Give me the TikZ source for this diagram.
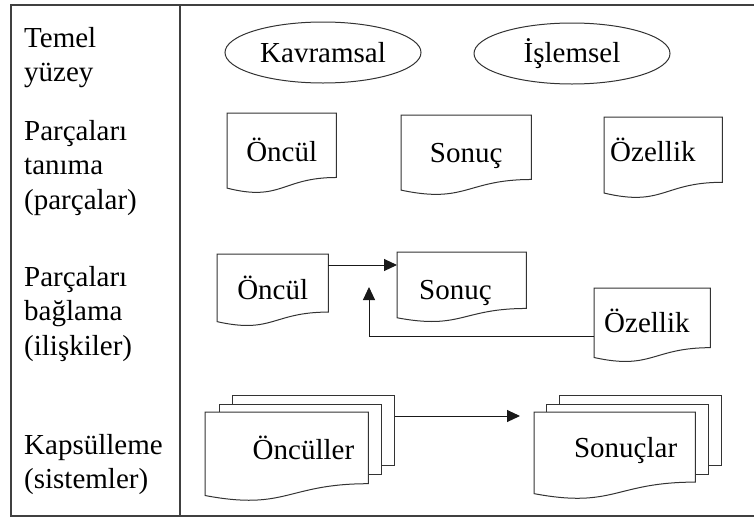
\documentclass[tikz,border=0pt]{standalone}
\usepackage{fontspec}
\setmainfont{Liberation Serif}
\usetikzlibrary{shapes.geometric,arrows.meta,calc,backgrounds}

\tikzset{
  frameline/.style={draw=black!75, line width=1.2pt},
  lvl/.style={anchor=north west, align=left, inner sep=0pt},
  surface/.style={ellipse, draw=black!80, line width=1pt, minimum width=196pt,
    minimum height=61pt, inner sep=0pt},
  doc/.style 2 args={anchor=north west, minimum width=#1, minimum height=#2, inner sep=0pt,
    text height=20pt, text depth=6pt},
  docline/.style={draw=black!80, line width=1pt},
  sheet/.style={draw=black!80, line width=1pt, fill=white, anchor=north west,
    minimum width=162pt, minimum height=70pt, inner sep=0pt},
  arr/.style={draw=black!90, line width=1pt, -{Triangle[length=13pt,width=12pt]}},
}

% outline of a flowchart document around a node
\newcommand\docshape[2][]{%
  \draw[docline,#1] (#2.north west) -- (#2.north east)
    -- ($(#2.north east)!0.802!(#2.south east)$)
    .. controls ($(#2.north)!0.802!(#2.south)$) and ($(#2.north)!1.107!(#2.south)$)
    .. ($(#2.north west)!0.934!(#2.south west)$) -- cycle;}

\begin{document}
\begin{tikzpicture}[x=1pt, y=-1pt, font=\fontsize{29}{34.5}\selectfont]
  \useasboundingbox (0,0) rectangle (754,520);
  % frame
  \draw[frameline] (760,5) -- (11,5) -- (11,516) -- (760,516);
  \draw[frameline] (180,5) -- (180,516);

  % levels
  \node[lvl] (lvlSurf) at (24,27) {Temel\\yüzey};
  \node[lvl] (lvlParts) at (24,120) {Parçaları\\tanıma\\(parçalar)};
  \node[lvl] (lvlLinks) at (24,266) {Parçaları\\bağlama\\(ilişkiler)};
  \node[lvl] (lvlSys) at (24,434) {Kapsülleme\\(sistemler)};

  % surface
  \node[surface] (concep) at (323,52.5) {Kavramsal};
  \node[surface] (proced) at (572,53.5) {İşlemsel};

  % parts
  \node[doc={109pt}{80pt}, text depth=4pt] (premA) at (227,113) {Öncül};
  \node[doc={130pt}{80pt}] (concA) at (401,115) {Sonuç};
  \node[doc={118pt}{81pt}, text width=106pt, align=left, text depth=13pt] (propA) at (604,117) {Özellik};
  \docshape{premA}
  \docshape{concA}
  \docshape{propA}

  % relations
  \node[doc={111pt}{72pt}, text depth=2pt] (premB) at (217,254) {Öncül};
  \node[doc={129pt}{70pt}, text width=85pt, align=left, text height=24pt, text depth=0pt] (concB) at (397,252) {Sonuç};
  \node[doc={116pt}{74pt}, text width=96pt, align=left] (propB) at (594,288) {Özellik};
  \docshape{premB}
  \docshape{concB}
  \docshape{propB}

  \coordinate (linkY) at (0,265);
  \draw[arr] (premB.east |- linkY) -- (concB.west |- linkY);
  \coordinate (fbk) at (369,336);
  \coordinate (fbkTip) at (369,287);
  \draw[arr] (propB.west |- fbk) -- (fbk) -- (fbkTip);

  % systems
  \node[doc={163pt}{89pt}, text width=135pt, align=right, text depth=14pt] (premC) at (205,412) {Öncüller};
  \node[doc={161pt}{87pt}, text width=125pt, align=right, text depth=16pt] (concC) at (534,412) {Sonuçlar};
  \begin{scope}[on background layer]
    \foreach \k in {2,1} {
      \node[sheet] (premS\k) at (205+13.5*\k, 412-8.5*\k) {};
    }
    \docshape[fill=white]{premC}
    \foreach \k in {2,1} {
      \node[sheet] (concS\k) at (533+13*\k, 412-8.5*\k) {};
    }
    \docshape[fill=white]{concC}
  \end{scope}

  \coordinate (sysTip) at (520,416);
  \draw[arr] (premS2.east |- sysTip) -- (sysTip);
\end{tikzpicture}
\end{document}
